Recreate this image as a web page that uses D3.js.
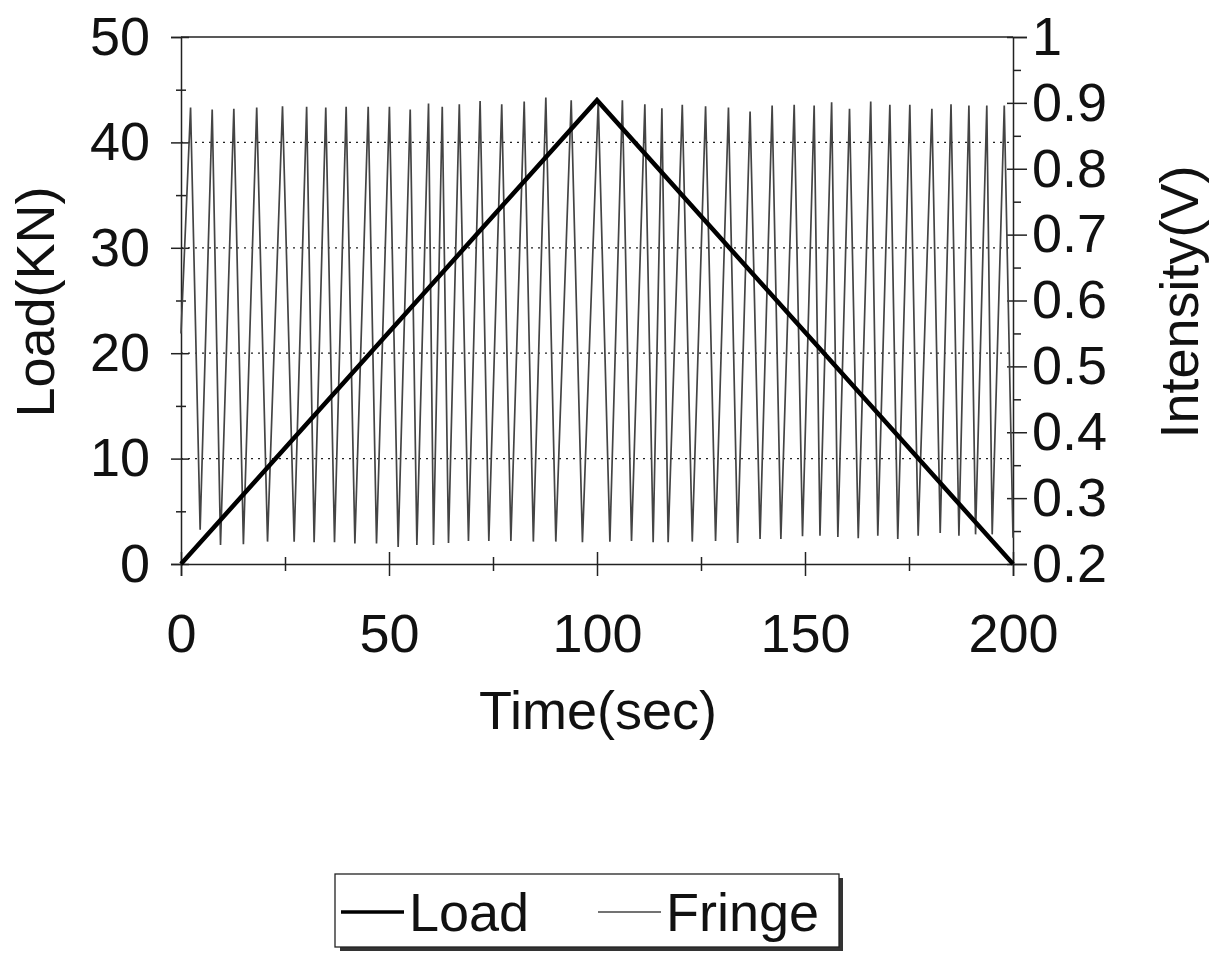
<!DOCTYPE html>
<html>
<head>
<meta charset="utf-8">
<script src="https://cdn.jsdelivr.net/npm/d3@7"></script>
<style>
  body { margin: 0; background: #fff; }
  svg text { font-family: "Liberation Sans", Arial, sans-serif; fill: #111; }
</style>
</head>
<body>
<div id="chart"></div>
<script>
// load ramp (KN)
var loadTime = [0, 100, 200];
var loadValue = [0, 44, 0];

// fringe intensity (V): start point, then peaks / troughs
var fringeStart = [0, 0.55];
var peakTime = [2.3, 7.5, 12.7, 18.2, 24.4, 30.2, 34.8, 39.7, 45.0, 50.1,
    55.1, 59.5, 62.8, 66.9, 71.9, 77.1, 82.5, 87.7, 93.8, 100.3,
    106.1, 111.5, 115.6, 120.5, 126.1, 131.6, 136.8, 142.1, 147.4, 152.2,
    156.4, 160.7, 165.8, 170.4, 175.2, 180.5, 185.1, 189.4, 193.7, 197.9];
var peakValue = [0.893, 0.890, 0.891, 0.893, 0.895, 0.894, 0.893, 0.894, 0.894, 0.894,
    0.890, 0.899, 0.894, 0.898, 0.903, 0.898, 0.902, 0.908, 0.904, 0.903,
    0.904, 0.898, 0.892, 0.897, 0.895, 0.893, 0.887, 0.896, 0.897, 0.896,
    0.901, 0.891, 0.902, 0.897, 0.897, 0.891, 0.898, 0.896, 0.896, 0.896];
var troughTime = [4.6, 9.5, 15.0, 20.8, 27.2, 32.0, 36.9, 41.8, 47.0, 52.2,
    56.7, 60.7, 64.3, 69.1, 74.0, 79.3, 84.7, 90.1, 96.5, 103.1,
    108.3, 113.5, 117.1, 122.9, 128.5, 133.8, 139.2, 144.2, 149.4, 153.6,
    157.9, 162.8, 167.5, 172.3, 177.2, 182.5, 187.0, 191.0, 195.0, 200];
var troughValue = [0.252, 0.229, 0.230, 0.234, 0.234, 0.233, 0.233, 0.231, 0.231, 0.226,
    0.229, 0.229, 0.232, 0.235, 0.235, 0.235, 0.234, 0.234, 0.233, 0.234,
    0.235, 0.233, 0.233, 0.234, 0.235, 0.232, 0.238, 0.238, 0.242, 0.243,
    0.241, 0.239, 0.243, 0.238, 0.243, 0.247, 0.243, 0.245, 0.245, 0.240];

var xTicks = [0, 50, 100, 150, 200];
var xMinor = [25, 75, 125, 175];
var loadTicks = [0, 10, 20, 30, 40, 50];
var loadMinor = [5, 15, 25, 35, 45];
var intTicks = [0.2, 0.3, 0.4, 0.5, 0.6, 0.7, 0.8, 0.9, 1];
var intMinor = [0.25, 0.35, 0.45, 0.55, 0.65, 0.75, 0.85, 0.95];
var gridLoads = [10, 20, 30, 40];

var W = 1221, H = 965;
var L = 181, R = 1013, T = 37, B = 564;
var FS = 54;

var svg = d3.select('#chart').append('svg')
    .attr('width', W)
    .attr('height', H);

var x = d3.scaleLinear().domain([0, 200]).range([L, R]);
var yL = d3.scaleLinear().domain([0, 50]).range([B, T]);
var yR = d3.scaleLinear().domain([0.2, 1]).range([B, T]);

// dotted grid
svg.append('g').selectAll('line')
    .data(gridLoads)
    .enter().append('line')
    .attr('x1', L).attr('x2', R)
    .attr('y1', function(d) { return yL(d); })
    .attr('y2', function(d) { return yL(d); })
    .attr('stroke', '#222')
    .attr('stroke-width', 1.3)
    .attr('stroke-dasharray', '2,5');

// frame top
svg.append('line')
    .attr('x1', L).attr('x2', R).attr('y1', T).attr('y2', T)
    .attr('stroke', '#222').attr('stroke-width', 1.5);

function styleAxis(g) {
    g.selectAll('path, line').attr('stroke', '#222').attr('stroke-width', 1.5);
    g.selectAll('text').style('font-size', FS + 'px').attr('fill', '#111');
}

// x axis
var gx = svg.append('g').attr('transform', 'translate(0,' + B + ')');
gx.call(d3.axisBottom(x).tickValues(xTicks).tickSize(12).tickPadding(38).tickFormat(d3.format('d')));
gx.append('g').call(d3.axisTop(x).tickValues(xTicks).tickSize(12).tickFormat(''))
    .select('.domain').remove();
gx.append('g').call(d3.axisBottom(x).tickValues(xMinor).tickSize(7).tickFormat(''))
    .select('.domain').remove();
gx.append('g').call(d3.axisTop(x).tickValues(xMinor).tickSize(7).tickFormat(''))
    .select('.domain').remove();
styleAxis(gx);

// left axis
var gl = svg.append('g').attr('transform', 'translate(' + L + ',0)');
gl.call(d3.axisLeft(yL).tickValues(loadTicks).tickSize(10).tickPadding(21).tickFormat(d3.format('d')));
gl.append('g').call(d3.axisRight(yL).tickValues(loadTicks).tickSize(8).tickFormat(''))
    .select('.domain').remove();
gl.append('g').call(d3.axisLeft(yL).tickValues(loadMinor).tickSize(5).tickFormat(''))
    .select('.domain').remove();
gl.append('g').call(d3.axisRight(yL).tickValues(loadMinor).tickSize(5).tickFormat(''))
    .select('.domain').remove();
styleAxis(gl);

// right axis
var gr = svg.append('g').attr('transform', 'translate(' + R + ',0)');
gr.call(d3.axisRight(yR).tickValues(intTicks).tickSize(14).tickPadding(5)
    .tickFormat(function(d) { return d === 1 ? '1' : d3.format('.1f')(d); }));
gr.append('g').call(d3.axisLeft(yR).tickValues(intTicks).tickSize(6).tickFormat(''))
    .select('.domain').remove();
gr.append('g').call(d3.axisRight(yR).tickValues(intMinor).tickSize(8).tickFormat(''))
    .select('.domain').remove();
styleAxis(gr);

// fringe trace
var fringe = [{t: fringeStart[0], v: fringeStart[1]}];
peakTime.forEach(function(t, i) {
    fringe.push({t: t, v: peakValue[i]});
    fringe.push({t: troughTime[i], v: troughValue[i]});
});
svg.append('path')
    .datum(fringe)
    .attr('fill', 'none')
    .attr('stroke', '#444')
    .attr('stroke-width', 1.7)
    .attr('d', d3.line()
        .x(function(d) { return x(d.t); })
        .y(function(d) { return yR(d.v); }));

// load trace
var load = loadTime.map(function(t, i) { return {t: t, v: loadValue[i]}; });
svg.append('path')
    .datum(load)
    .attr('fill', 'none')
    .attr('stroke', '#000')
    .attr('stroke-width', 4.5)
    .attr('stroke-linejoin', 'miter')
    .attr('d', d3.line()
        .x(function(d) { return x(d.t); })
        .y(function(d) { return yL(d.v); }));

// axis titles
svg.append('text')
    .attr('x', (L + R) / 2 + 1)
    .attr('y', 729)
    .attr('text-anchor', 'middle')
    .style('font-size', FS + 'px')
    .text('Time(sec)');

svg.append('text')
    .attr('transform', 'translate(54,' + 302 + ')rotate(-90)')
    .attr('text-anchor', 'middle')
    .style('font-size', FS + 'px')
    .text('Load(KN)');

svg.append('text')
    .attr('transform', 'translate(1198,' + 302 + ')rotate(-90)')
    .attr('text-anchor', 'middle')
    .style('font-size', FS + 'px')
    .text('Intensity(V)');

// legend
var lg = svg.append('g');
lg.append('rect')
    .attr('x', 340).attr('y', 878).attr('width', 503).attr('height', 73)
    .attr('fill', '#333');
lg.append('rect')
    .attr('x', 335).attr('y', 874).attr('width', 504).attr('height', 73)
    .attr('fill', '#fff')
    .attr('stroke', '#222')
    .attr('stroke-width', 1.3);

var series = [
    {name: 'Load', x: 341, w: 3.5, stroke: '#000'},
    {name: 'Fringe', x: 598, w: 1.6, stroke: '#444'}
];
series.forEach(function(s) {
    lg.append('line')
        .attr('x1', s.x).attr('x2', s.x + 63)
        .attr('y1', 912).attr('y2', 912)
        .attr('stroke', s.stroke)
        .attr('stroke-width', s.w);
    lg.append('text')
        .attr('x', s.x + 68)
        .attr('y', 931)
        .style('font-size', FS + 'px')
        .text(s.name);
});
</script>
</body>
</html>
